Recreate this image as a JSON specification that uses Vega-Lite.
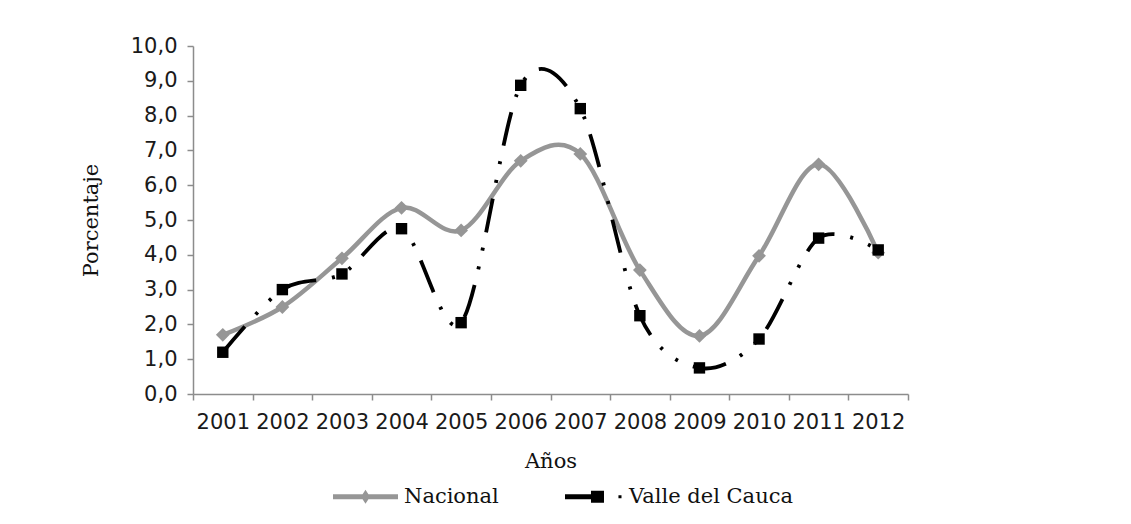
{
  "$schema": "https://vega.github.io/schema/vega-lite/v6.json",
  "width": 715,
  "height": 348,
  "autosize": {"type": "none"},
  "padding": {"left": 193, "top": 46, "right": 223, "bottom": 130},
  "background": "white",
  "config": {
    "view": {"stroke": null},
    "axis": {
      "domainColor": "#8c8c8c",
      "domainWidth": 1.5,
      "tickColor": "#8c8c8c",
      "tickWidth": 1.5,
      "tickSize": 6,
      "grid": false,
      "labelFont": "DejaVu Sans",
      "labelFontSize": 21,
      "labelColor": "#1a1a1a",
      "titleFont": "DejaVu Serif",
      "titleFontSize": 21,
      "titleFontWeight": "normal",
      "titleColor": "#111111"
    }
  },
  "data": {
    "values": [
      {"anio": "2001", "serie": "Nacional", "valor": 1.7},
      {"anio": "2002", "serie": "Nacional", "valor": 2.5},
      {"anio": "2003", "serie": "Nacional", "valor": 3.9},
      {"anio": "2004", "serie": "Nacional", "valor": 5.35},
      {"anio": "2005", "serie": "Nacional", "valor": 4.7},
      {"anio": "2006", "serie": "Nacional", "valor": 6.7},
      {"anio": "2007", "serie": "Nacional", "valor": 6.9},
      {"anio": "2008", "serie": "Nacional", "valor": 3.56},
      {"anio": "2009", "serie": "Nacional", "valor": 1.67},
      {"anio": "2010", "serie": "Nacional", "valor": 3.97},
      {"anio": "2011", "serie": "Nacional", "valor": 6.6},
      {"anio": "2012", "serie": "Nacional", "valor": 4.06},
      {"anio": "2001", "serie": "Valle del Cauca", "valor": 1.2},
      {"anio": "2002", "serie": "Valle del Cauca", "valor": 3.0},
      {"anio": "2003", "serie": "Valle del Cauca", "valor": 3.45},
      {"anio": "2004", "serie": "Valle del Cauca", "valor": 4.75},
      {"anio": "2005", "serie": "Valle del Cauca", "valor": 2.05},
      {"anio": "2006", "serie": "Valle del Cauca", "valor": 8.87},
      {"anio": "2007", "serie": "Valle del Cauca", "valor": 8.2},
      {"anio": "2008", "serie": "Valle del Cauca", "valor": 2.25},
      {"anio": "2009", "serie": "Valle del Cauca", "valor": 0.75},
      {"anio": "2010", "serie": "Valle del Cauca", "valor": 1.58},
      {"anio": "2011", "serie": "Valle del Cauca", "valor": 4.48},
      {"anio": "2012", "serie": "Valle del Cauca", "valor": 4.14}
    ]
  },
  "encoding": {
    "x": {
      "field": "anio",
      "type": "ordinal",
      "scale": {"type": "band", "paddingInner": 0, "paddingOuter": 0},
      "axis": {
        "title": "Años",
        "labelAngle": 0,
        "tickBand": "extent",
        "labelPadding": 11,
        "titlePadding": 18
      }
    },
    "y": {
      "field": "valor",
      "type": "quantitative",
      "scale": {"domain": [0, 10], "nice": false, "zero": true},
      "axis": {
        "title": "Porcentaje",
        "values": [0, 1, 2, 3, 4, 5, 6, 7, 8, 9, 10],
        "labelExpr": "replace(format(datum.value, '.1f'), '.', ',')",
        "labelPadding": 10,
        "titlePadding": 29
      }
    }
  },
  "layer": [
    {
      "transform": [{"filter": "datum.serie === 'Nacional'"}],
      "mark": {"type": "line", "color": "#969696", "strokeWidth": 4.5, "interpolate": "cardinal", "tension": 0}
    },
    {
      "transform": [{"filter": "datum.serie === 'Nacional'"}],
      "mark": {"type": "point", "shape": "diamond", "filled": true, "color": "#969696", "size": 190, "opacity": 1}
    },
    {
      "transform": [{"filter": "datum.serie === 'Valle del Cauca'"}],
      "mark": {"type": "line", "color": "#000000", "strokeWidth": 3.8, "interpolate": "cardinal", "tension": 0.08, "strokeDash": [34, 16, 3, 16, 3, 16], "strokeCap": "butt"}
    },
    {
      "transform": [{"filter": "datum.serie === 'Valle del Cauca'"}],
      "mark": {"type": "point", "shape": "square", "filled": true, "color": "#000000", "size": 130, "opacity": 1}
    },
    {
      "transform": [{"filter": "false"}],
      "mark": {"type": "point", "filled": true, "opacity": 1},
      "encoding": {
        "color": {
          "field": "serie",
          "type": "nominal",
          "scale": {"domain": ["Nacional", "Valle del Cauca"], "range": ["#969696", "#000000"]},
          "legend": {
            "title": null,
            "orient": "none",
            "direction": "horizontal",
            "legendX": 140,
            "legendY": 418,
            "symbolSize": 4225,
            "symbolStrokeWidth": 0,
            "symbolOpacity": 1,
            "labelFont": "DejaVu Serif",
            "labelFontSize": 21,
            "labelColor": "#111111",
            "labelOffset": 6,
            "labelLimit": 400,
            "columnPadding": 59
          }
        },
        "shape": {
          "field": "serie",
          "type": "nominal",
          "scale": {
            "domain": ["Nacional", "Valle del Cauca"],
            "range": [
              "M-1,-0.08L1,-0.08L1,0.08L-1,0.08Z M0,-0.215L0.14,0L0,0.215L-0.14,0Z",
              "M-0.785,-0.077L0.015,-0.077L0.015,0.077L-0.785,0.077Z M0.015,-0.185L0.415,-0.185L0.415,0.185L0.015,0.185Z M0.86,-0.046L0.954,-0.046L0.954,0.046L0.86,0.046Z"
            ]
          }
        }
      }
    }
  ]
}
